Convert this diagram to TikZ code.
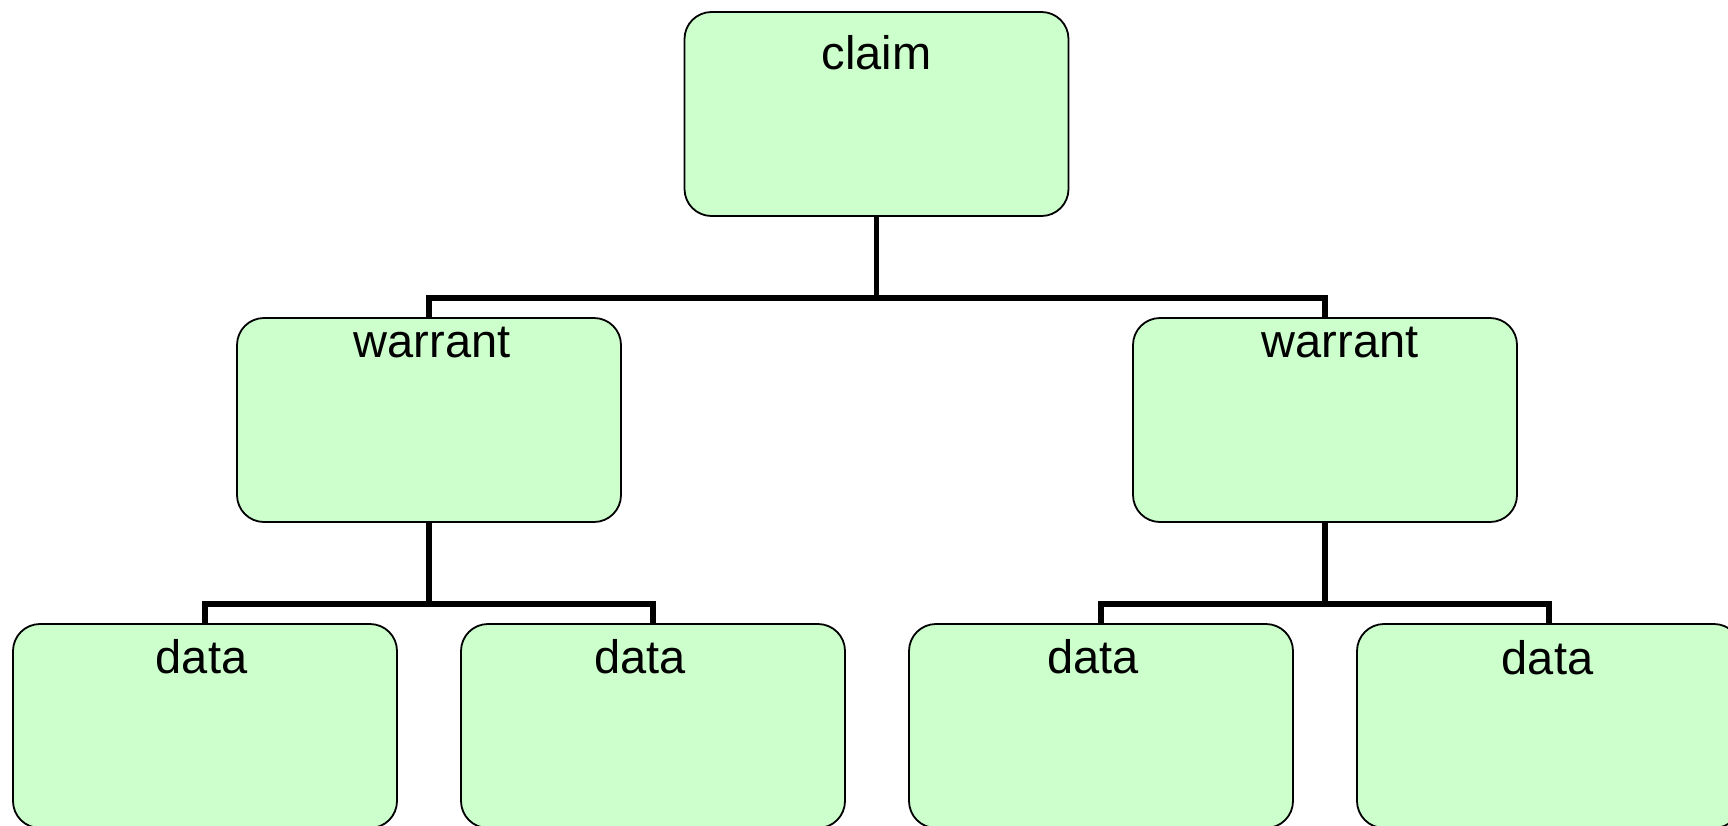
\documentclass[tikz,border=0pt]{standalone}
\usepackage{fontspec}
\setmainfont{Liberation Sans}
\definecolor{boxgreen}{RGB}{204,255,204}
\begin{document}
\begin{tikzpicture}[x=0.5pt,y=-0.5pt,
  box/.style={draw=black, line width=0.9pt, fill=boxgreen, rounded corners=13.5pt,
    minimum width=192pt, minimum height=102pt, inner sep=0pt},
  conn/.style={line width=2.7pt},
  lbl/.style={font=\fontsize{23.5pt}{28pt}\selectfont, anchor=base, inner sep=0pt}]
\useasboundingbox (0,0) rectangle (1728,825);
\clip (0,0) rectangle (1728,825);
\node[box, label={[lbl, yshift=-29pt]90:claim}] (claim) at (876.5,114) {};
\node[box, label={[lbl, yshift=-20pt, xshift=1.5pt]90:warrant}] (w1) at (429,420) {};
\node[box, label={[lbl, yshift=-20pt, xshift=7.5pt]90:warrant}] (w2) at (1325,420) {};
\node[box, label={[lbl, yshift=-25pt, xshift=-1.75pt]90:data}] (d1) at (205,726) {};
\node[box, label={[lbl, yshift=-25pt, xshift=-6.5pt]90:data}] (d2) at (653,726) {};
\node[box, label={[lbl, yshift=-25pt, xshift=-4pt]90:data}] (d3) at (1101,726) {};
\node[box, label={[lbl, yshift=-25.5pt, xshift=-0.75pt]90:data}] (d4) at (1549,726) {};
\coordinate (bar1) at (0,298);
\coordinate (bar2) at (0,604);
\draw[conn] (claim.south) -- (claim.south |- bar1);
\draw[conn] (w1.north) -- (w1.north |- bar1) -| (w2.north);
\draw[conn] (w1.south) -- (w1.south |- bar2);
\draw[conn] (d1.north) -- (d1.north |- bar2) -| (d2.north);
\draw[conn] (w2.south) -- (w2.south |- bar2);
\draw[conn] (d3.north) -- (d3.north |- bar2) -| (d4.north);
\end{tikzpicture}
\end{document}
